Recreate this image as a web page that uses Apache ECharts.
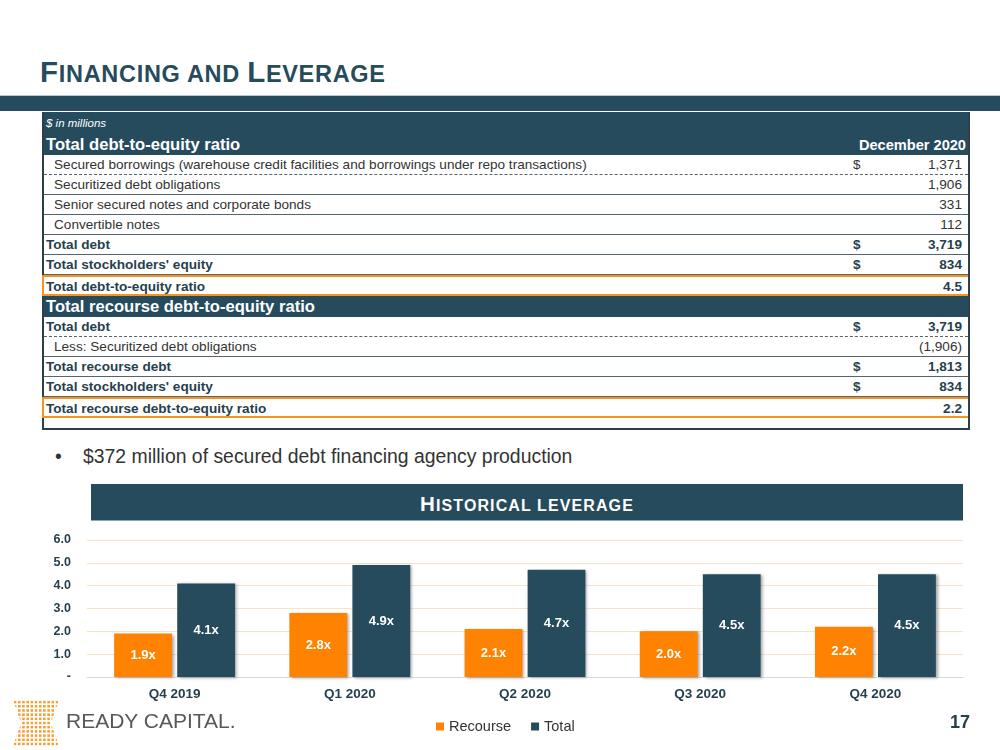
<!DOCTYPE html>
<html>
<head>
<meta charset="utf-8">
<script src="https://cdn.jsdelivr.net/npm/echarts@6/dist/echarts.min.js"></script>
<style>
  body { margin: 0; width: 1000px; height: 750px; position: relative; background: #fff;
         font-family: Arial, "Liberation Sans", sans-serif; overflow: hidden; }
  .abs { position: absolute; }
  #title { left: 40px; top: 55px; font-weight: bold; color: #264B5D; white-space: nowrap; letter-spacing: 0.7px; }
  #title .c { font-size: 29.5px; }
  #title .s { font-size: 23.5px; }
  #band { left: 0; top: 95px; width: 1000px; height: 16px; background: #264B5D;
          border-top: 1px solid #b9c7cf; box-sizing: border-box; }
  #table { left: 42px; top: 112px; width: 928px; border-left: 2px solid #2e3f4a;
           border-right: 2px solid #2e3f4a; border-bottom: 2px solid #2e3f4a; box-sizing: border-box; }
  .head { background: #264B5D; color: #fff; position: relative; white-space: nowrap; }
  .row { height: 20px; line-height: 20px; font-size: 13.6px; color: #333; position: relative;
         border-bottom: 1px solid #55656f; box-sizing: border-box; white-space: nowrap; }
  .row .lab { position: absolute; left: 10px; }
  .row .dol { position: absolute; left: 809px; }
  .row .val { position: absolute; right: 6px; }
  .row.bold { font-weight: bold; color: #263f4d; }
  .row.bold .lab { left: 2px; }
  .row.dash { border-bottom: 1px dashed #55656f; }
  .row.ratio { border-top: 2px solid #f7941d; border-bottom: 2px solid #f7941d; margin-left: -2px;
               border-left: 2px solid #f7941d; height: 21px; }
  .row.ratio .lab { left: 2px; }
  #bullet { left: 55px; top: 445px; font-size: 19.4px; color: #333; }
  #bullet span { position: absolute; left: 28px; white-space: nowrap; }
  #hist { left: 91px; top: 484px; width: 872px; height: 37px; background: #264B5D; color: #fff;
          font-weight: bold; text-align: center; line-height: 40px; white-space: nowrap; letter-spacing: 1.1px;
          border-bottom: 1px solid #8fa5b1; box-sizing: border-box; }
  #hist .c { font-size: 20.5px; }
  #hist .s { font-size: 16px; }
  #chart { left: 0; top: 525px; width: 1000px; height: 225px; }
  #page { left: 950px; top: 712px; font-size: 18px; font-weight: bold; color: #263f4d; }
  #dots { left: 13px; top: 700px; width: 46px; height: 46px;
          background-image: radial-gradient(circle, #f7941d 1.3px, transparent 1.6px);
          background-size: 4.2px 4.2px;
          clip-path: polygon(0 0, 100% 0, 82% 50%, 100% 100%, 0 100%, 18% 50%); opacity: 0.9; }
  #logo { left: 66px; top: 709px; font-size: 21px; color: #55595c; }
</style>
</head>
<body>
<div id="title" class="abs"><span class="c">F</span><span class="s">INANCING AND </span><span class="c">L</span><span class="s">EVERAGE</span></div>
<div id="band" class="abs"></div>
<div id="table" class="abs"></div>
<div id="bullet" class="abs">•<span>$372 million of secured debt financing agency production</span></div>
<div id="hist" class="abs"><span class="c">H</span><span class="s">ISTORICAL LEVERAGE</span></div>
<div id="chart" class="abs"></div>
<div id="page" class="abs">17</div>
<div id="dots" class="abs"></div>
<div id="logo" class="abs">READY CAPITAL.</div>
<script>
// table data
var debtLabels = ['Secured borrowings (warehouse credit facilities and borrowings under repo transactions)',
  'Securitized debt obligations', 'Senior secured notes and corporate bonds', 'Convertible notes',
  'Total debt', "Total stockholders' equity", 'Total debt-to-equity ratio'];
var debtValues = ['1,371', '1,906', '331', '112', '3,719', '834', '4.5'];
var debtDollar = [true, false, false, false, true, true, false];
var debtKind = ['dash', '', '', '', 'bold', 'bold', 'bold ratio'];

var recLabels = ['Total debt', 'Less: Securitized debt obligations', 'Total recourse debt',
  "Total stockholders' equity", 'Total recourse debt-to-equity ratio'];
var recValues = ['3,719', '(1,906)', '1,813', '834', '2.2'];
var recDollar = [true, false, true, true, false];
var recKind = ['bold dash', '', 'bold', 'bold', 'bold ratio'];

// chart data
var quarters = ['Q4 2019', 'Q1 2020', 'Q2 2020', 'Q3 2020', 'Q4 2020'];
var recourse = [1.9, 2.8, 2.1, 2.0, 2.2];
var total = [4.1, 4.9, 4.7, 4.5, 4.5];

var tbl = document.getElementById('table');
function addRows(labels, values, dollars, kinds) {
  labels.forEach(function (l, i) {
    var r = document.createElement('div');
    r.className = 'row ' + kinds[i];
    r.innerHTML = '<span class="lab">' + l + '</span>' +
      (dollars[i] ? '<span class="dol">$</span>' : '') +
      '<span class="val">' + values[i] + '</span>';
    tbl.appendChild(r);
  });
}
var h1 = document.createElement('div');
h1.className = 'head';
h1.style.height = '43px';
h1.innerHTML = '<div style="position:absolute;left:2px;top:5px;font-size:11.5px;font-style:italic">$ in millions</div>' +
  '<div style="position:absolute;left:2px;top:23px;font-size:16.6px;font-weight:bold">Total debt-to-equity ratio</div>' +
  '<div style="position:absolute;right:2px;top:25px;font-size:14.6px;font-weight:bold">December 2020</div>';
tbl.appendChild(h1);
addRows(debtLabels, debtValues, debtDollar, debtKind);
var h2 = document.createElement('div');
h2.className = 'head';
h2.style.height = '21px';
h2.innerHTML = '<div style="position:absolute;left:2px;top:1px;font-size:16.6px;font-weight:bold">Total recourse debt-to-equity ratio</div>';
tbl.appendChild(h2);
addRows(recLabels, recValues, recDollar, recKind);
var pad = document.createElement('div');
pad.style.height = '10px';
tbl.appendChild(pad);

var chart = echarts.init(document.getElementById('chart'));
var barLabel = {
  show: true, position: 'inside', color: '#fff', fontWeight: 'bold', fontSize: 13,
  formatter: function (p) { return p.value.toFixed(1) + 'x'; }
};
var shadow = { shadowBlur: 3, shadowOffsetX: 2, shadowOffsetY: 1, shadowColor: 'rgba(0,0,0,0.35)' };
var option = {
  animation: false,
  grid: { left: 87, right: 37, top: 15, bottom: 73 },
  legend: {
    bottom: 11, left: 431, itemWidth: 8, itemHeight: 8, itemGap: 20, icon: 'rect',
    textStyle: { fontSize: 14.5, color: '#333', fontFamily: 'Arial' },
    data: ['Recourse', 'Total']
  },
  xAxis: {
    type: 'category', data: quarters,
    axisLine: { lineStyle: { color: '#d9d9d9' } }, axisTick: { show: false },
    axisLabel: { fontWeight: 'bold', fontSize: 13.5, color: '#263f4d', margin: 10, fontFamily: 'Arial' }
  },
  yAxis: {
    type: 'value', min: 0, max: 6, interval: 1,
    axisLabel: {
      fontWeight: 'bold', fontSize: 12.5, color: '#263f4d', margin: 16, fontFamily: 'Arial',
      formatter: function (v) { return v === 0 ? '-' : v.toFixed(1); }
    },
    splitLine: { lineStyle: { color: '#fbe2c6' } }
  },
  series: [
    { name: 'Recourse', type: 'bar', data: recourse, barGap: '9%', barCategoryGap: '31%',
      itemStyle: Object.assign({ color: '#FF8200' }, shadow), label: barLabel },
    { name: 'Total', type: 'bar', data: total,
      itemStyle: Object.assign({ color: '#264B5D' }, shadow), label: barLabel }
  ]
};
chart.setOption(option);
</script>
</body>
</html>
